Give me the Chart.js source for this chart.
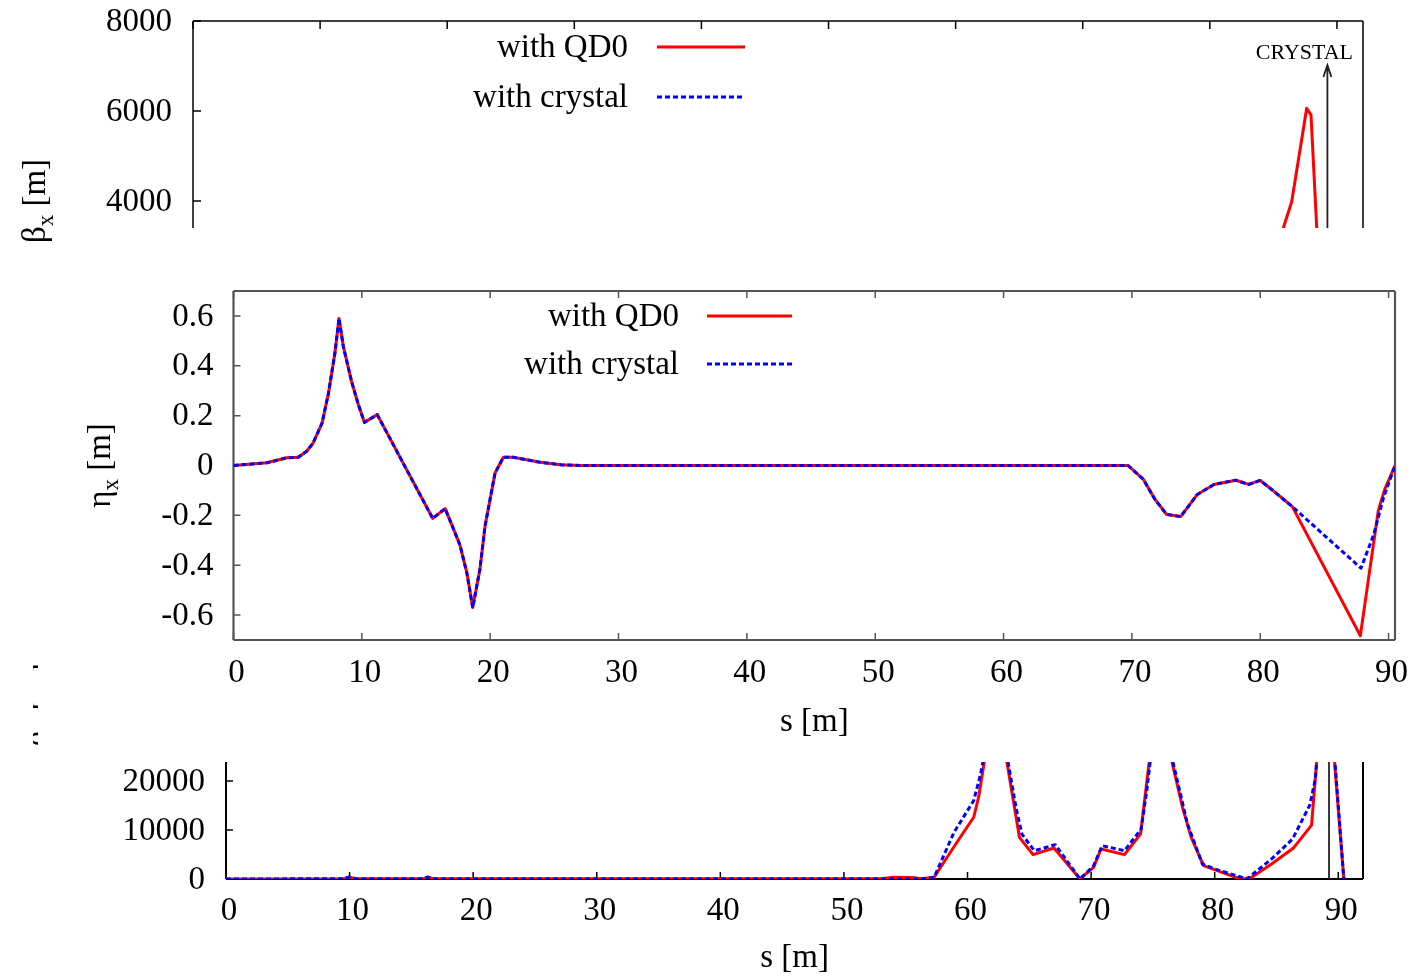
<!DOCTYPE html>
<html>
<head>
<meta charset="utf-8">
<title>Optics along the final focus</title>
<script src="https://cdn.jsdelivr.net/npm/chart.js@4.4.1/dist/chart.umd.min.js"></script>
<style>
  body { margin: 0; background: #fff; width: 1416px; height: 977px; position: relative; overflow: hidden; }
  .panel { position: absolute; overflow: hidden; background: #fff; }
  .panel canvas { display: block; }
  #frag { position: absolute; left: 33px; top: 655px; width: 5px; height: 95px; overflow: hidden; z-index: 3; }
  #frag span { position: absolute; left: 14px; top: 50px; transform: translate(-50%, -50%) rotate(-90deg);
               font: 33px "Liberation Serif", serif; white-space: nowrap; color: #000; }
</style>
</head>
<body>

<div class="panel" style="left:0;top:0;width:1416px;height:260px;z-index:1">
  <canvas id="betaXChart" width="1416" height="430"></canvas>
</div>
<div class="panel" style="left:0;top:740px;width:1416px;height:237px;z-index:1">
  <canvas id="betaYChart" width="1416" height="237"></canvas>
</div>
<div class="panel" style="left:60px;top:228px;width:1356px;height:534px;z-index:2">
  <canvas id="etaChart" width="1356" height="534"></canvas>
</div>
<div id="frag"><span>β<sub style="font-size:23px">y</sub> [m]</span></div>

<script>
// tick positions
const sTicks = [0, 10, 20, 30, 40, 50, 60, 70, 80, 90];
const betaXTicks = [0, 2000, 4000, 6000, 8000];
const etaTicks = [-0.6, -0.4, -0.2, 0, 0.2, 0.4, 0.6];
const betaYTicks = [0, 10000, 20000];

const seriesNames = ['with QD0', 'with crystal'];
const crystalS = 89.25;

// horizontal beta function [m]
const betaXQD0S = [0, 15, 30, 55, 70, 80, 84, 85.78, 86.44, 87.62, 87.96, 88.41, 89.0, 90.5];
const betaXQD0  = [0, 150, 20, 10, 400, 900, 2100, 3400, 3985, 6060, 5911, 3400, 1200, 20];
const betaXCrystalS = [0, 15, 30, 55, 70, 80, 84, 86.5, 88.0, 89.25, 90.5];
const betaXCrystal  = [0, 150, 20, 10, 400, 800, 1700, 2500, 3000, 2600, 20];

// horizontal dispersion [m], identical for both lattices up to s = 82.5 m
const etaS = [0, 2.6, 4.15, 5.05, 5.7, 6.2, 6.9, 7.4, 7.9, 8.22, 8.56, 9.2, 9.73, 10.2, 11.2,
              15.52, 16.49, 17.05, 17.65, 18.18, 18.64, 19.2, 19.6, 20.38, 21.03, 21.8, 23.9, 25.5, 27,
              69.7, 70.9, 71.8, 72.7, 73.8, 75.1, 76.4, 78.1, 79.1, 80.0, 81.05, 82.5];
const etaCommon = [0, 0.011, 0.031, 0.033, 0.057, 0.09, 0.17, 0.29, 0.45, 0.59, 0.477, 0.337, 0.244, 0.173, 0.204,
                   -0.212, -0.173, -0.243, -0.32, -0.43, -0.57, -0.416, -0.243, -0.03, 0.033, 0.033, 0.013, 0.003, 0,
                   0, -0.056, -0.136, -0.196, -0.205, -0.116, -0.076, -0.059, -0.076, -0.06, -0.103, -0.165];
const etaQD0TailS = [87.8, 89.2, 89.7, 90.5];
const etaQD0Tail  = [-0.683, -0.18, -0.096, 0];
const etaCrystalTailS = [87.85, 88.85, 89.6, 90.5];
const etaCrystalTail  = [-0.412, -0.276, -0.13, 0];

// vertical beta function [m]
const betaYQD0S = [0, 9.5, 10.0, 10.5, 16.0, 16.3, 16.8, 24, 53, 54, 55.5, 56.3, 57.3, 59.05, 60.5, 60.9,
                   62.25, 63.8, 64.2, 65.3, 67.0, 69.1, 70.2, 70.8, 72.7, 74.0, 75.33, 77.4, 78.1, 79.1,
                   81.7, 82.3, 83.0, 84.6, 86.35, 87.84, 88.97, 90.45];
const betaYQD0  = [0, 50, 350, 60, 60, 350, 60, 60, 60, 350, 300, 50, 350, 7140, 12600, 16700,
                   38000, 14600, 8500, 4970, 6330, 0, 2380, 6120, 4970, 9180, 37000, 14600, 8500, 2720,
                   340, 0, 340, 3060, 6260, 11000, 47000, 0];
const betaYCrystalS = [0, 9.5, 10.0, 10.5, 16.0, 16.3, 16.8, 53, 56.3, 57.3, 58.9, 60.5, 61.06, 62.3, 63.93,
                       64.4, 65.4, 67.1, 69.1, 70.2, 70.9, 72.7, 74.05, 74.5, 75.4, 77.8, 79.0, 80.0, 82.6,
                       84.6, 86.3, 87.7, 88.15, 89.0, 90.45];
const betaYCrystal  = [0, 50, 400, 60, 60, 400, 60, 60, 60, 350, 9500, 16000, 21400, 38000, 14500,
                       9180, 5780, 7000, 0, 2700, 6800, 5780, 10200, 18000, 37000, 11200, 3060, 2040, 0,
                       4080, 8160, 15100, 20500, 48000, 0];

const FONT = '"Liberation Serif", "Times New Roman", serif';
const pts = (xs, ys) => xs.map((s, i) => ({ x: s, y: ys[i] }));

// closed frame plus inward gnuplot-style ticks
const frameTicks = {
  id: 'frameTicks',
  beforeDatasetsDraw(chart, args, o) {
    const { ctx, chartArea: a } = chart;
    const x = chart.scales.x, y = chart.scales.y;
    ctx.save();
    ctx.strokeStyle = o.color;
    ctx.lineWidth = o.width;
    ctx.beginPath();
    if (o.sides.includes('t')) { ctx.moveTo(a.left, a.top); ctx.lineTo(a.right, a.top); }
    if (o.sides.includes('b')) { ctx.moveTo(a.left, a.bottom); ctx.lineTo(a.right, a.bottom); }
    if (o.sides.includes('l')) { ctx.moveTo(a.left, a.top); ctx.lineTo(a.left, a.bottom); }
    if (o.sides.includes('r')) { ctx.moveTo(a.right, a.top); ctx.lineTo(a.right, a.bottom); }
    ctx.stroke();
    ctx.lineWidth = o.tickWidth;
    ctx.beginPath();
    x.ticks.forEach(t => {
      const px = x.getPixelForValue(t.value);
      if (o.xTicks.includes('b')) { ctx.moveTo(px, a.bottom); ctx.lineTo(px, a.bottom - o.len); }
      if (o.xTicks.includes('t')) { ctx.moveTo(px, a.top); ctx.lineTo(px, a.top + o.len); }
    });
    y.ticks.forEach(t => {
      const py = y.getPixelForValue(t.value);
      ctx.moveTo(a.left, py); ctx.lineTo(a.left + o.len, py);
    });
    ctx.stroke();
    ctx.restore();
  }
};

// tick numbers, placed from the scale ticks
const tickText = {
  id: 'tickText',
  afterDraw(chart, args, o) {
    const { ctx, chartArea: a } = chart;
    const x = chart.scales.x, y = chart.scales.y;
    ctx.save();
    ctx.fillStyle = '#000';
    ctx.font = `${o.size}px ${FONT}`;
    ctx.textBaseline = 'middle';
    if (o.xOffset) {
      ctx.textAlign = 'center';
      x.ticks.forEach(t => ctx.fillText(String(t.value), x.getPixelForValue(t.value) + o.xDx, a.bottom + o.xOffset));
    }
    ctx.textAlign = 'right';
    y.ticks.forEach(t => ctx.fillText(String(t.value), a.left - o.yGap, y.getPixelForValue(t.value) + 1));
    ctx.restore();
  }
};

// key: right-aligned text followed by a line sample
const keyBox = {
  id: 'keyBox',
  afterDatasetsDraw(chart, args, o) {
    const ctx = chart.ctx;
    ctx.save();
    ctx.font = `${o.size}px ${FONT}`;
    ctx.textAlign = 'right';
    ctx.textBaseline = 'middle';
    chart.data.datasets.forEach((ds, i) => {
      const yy = o.top + i * o.gap;
      ctx.fillStyle = '#000';
      ctx.fillText(ds.label, o.textRight, yy + 1);
      ctx.strokeStyle = ds.borderColor;
      ctx.lineWidth = ds.borderWidth;
      ctx.setLineDash(ds.borderDash || []);
      ctx.beginPath();
      ctx.moveTo(o.lineFrom, yy);
      ctx.lineTo(o.lineTo, yy);
      ctx.stroke();
      ctx.setLineDash([]);
    });
    ctx.restore();
  }
};

// axis titles, y title may carry a subscript
function drawParts(ctx, parts, size) {
  const big = `${size}px ${FONT}`, small = `${Math.round(size * 0.7)}px ${FONT}`;
  let total = 0;
  parts.forEach(p => { ctx.font = p.sub ? small : big; total += ctx.measureText(p.t).width; });
  let cx = -total / 2;
  ctx.textAlign = 'left';
  ctx.textBaseline = 'alphabetic';
  parts.forEach(p => {
    ctx.font = p.sub ? small : big;
    ctx.fillText(p.t, cx, p.sub ? size * 0.55 : size * 0.3);
    cx += ctx.measureText(p.t).width;
  });
}

const axisTitles = {
  id: 'axisTitles',
  afterDraw(chart, args, o) {
    const { ctx, chartArea: a } = chart;
    ctx.save();
    ctx.fillStyle = '#000';
    if (o.x) {
      ctx.font = `${o.size}px ${FONT}`;
      ctx.textAlign = 'center';
      ctx.textBaseline = 'middle';
      ctx.fillText(o.x, (a.left + a.right) / 2, a.bottom + o.xOffset);
    }
    if (o.y) {
      ctx.translate(a.left - o.yOffset, (a.top + a.bottom) / 2);
      ctx.rotate(-Math.PI / 2);
      drawParts(ctx, o.y, o.size);
    }
    ctx.restore();
  }
};

// crystal position marker
const crystalMark = {
  id: 'crystalMark',
  afterDatasetsDraw(chart, args, o) {
    const { ctx, chartArea: a } = chart;
    const px = chart.scales.x.getPixelForValue(o.s);
    const tip = a.top + o.tip;
    ctx.save();
    ctx.strokeStyle = o.color;
    ctx.lineWidth = o.width;
    ctx.beginPath();
    ctx.moveTo(px, a.bottom);
    ctx.lineTo(px, tip);
    if (o.arrow) {
      ctx.moveTo(px - 4, tip + 12);
      ctx.lineTo(px, tip);
      ctx.lineTo(px + 4, tip + 12);
    }
    ctx.stroke();
    if (o.label) {
      ctx.fillStyle = '#000';
      ctx.font = `${o.labelSize}px ${FONT}`;
      ctx.textAlign = 'center';
      ctx.textBaseline = 'middle';
      ctx.fillText(o.label, px + o.labelDx, a.top + o.labelDy);
    }
    ctx.restore();
  }
};

function lineSets(qd0, crystal) {
  return [
    { label: seriesNames[0], data: qd0, borderColor: '#ff0000', borderWidth: 3, order: 2 },
    { label: seriesNames[1], data: crystal, borderColor: '#0000ff', borderWidth: 3, borderDash: [5, 3], order: 1 }
  ];
}

function baseOptions(c) {
  return {
    responsive: false,
    animation: false,
    events: [],
    layout: { padding: c.padding },
    elements: { point: { radius: 0 }, line: { tension: 0, borderJoinStyle: 'round', borderCapStyle: 'butt' } },
    scales: {
      x: {
        type: 'linear', min: 0, max: c.xMax,
        afterBuildTicks: s => { s.ticks = sTicks.map(v => ({ value: v })); },
        afterFit: s => { s.height = c.xHeight; },
        grid: { display: false, drawTicks: false },
        border: { display: false },
        ticks: { display: false }
      },
      y: {
        type: 'linear', min: c.yMin, max: c.yMax,
        afterBuildTicks: s => { s.ticks = c.yTicks.map(v => ({ value: v })); },
        afterFit: s => { s.width = c.yWidth; },
        grid: { display: false, drawTicks: false },
        border: { display: false },
        ticks: { display: false }
      }
    },
    plugins: {
      legend: { display: false },
      tooltip: { enabled: false },
      frameTicks: c.frame,
      tickText: c.numbers,
      keyBox: c.key,
      axisTitles: c.titles,
      crystalMark: c.crystal
    }
  };
}

// upper panel: horizontal beta
new Chart(document.getElementById('betaXChart'), {
  type: 'line',
  data: { datasets: lineSets(pts(betaXQD0S, betaXQD0), pts(betaXCrystalS, betaXCrystal)) },
  options: baseOptions({
    padding: { top: 21, right: 53, left: 0, bottom: 0 },
    xMax: 92.05, yMin: 0, yMax: 8000, yTicks: betaXTicks,
    xHeight: 49, yWidth: 193,
    frame: { color: '#000', width: 1.5, tickWidth: 1.5, len: 8, sides: 'tblr', xTicks: 'tb' },
    numbers: { size: 33, yGap: 21, xOffset: 0 },
    key: { size: 33, textRight: 628, top: 47, gap: 50, lineFrom: 657, lineTo: 745 },
    titles: { size: 33, yOffset: 158, y: [{ t: 'β' }, { t: 'x', sub: true }, { t: ' [m]' }] },
    crystal: { s: crystalS, color: '#222', width: 1.8, tip: 44, arrow: true,
               label: 'CRYSTAL', labelSize: 22, labelDx: -23, labelDy: 32 }
  }),
  plugins: [frameTicks, tickText, keyBox, axisTitles, crystalMark]
});

// middle panel: horizontal dispersion
new Chart(document.getElementById('etaChart'), {
  type: 'line',
  data: {
    datasets: lineSets(
      pts(etaS.concat(etaQD0TailS), etaCommon.concat(etaQD0Tail)),
      pts(etaS.concat(etaCrystalTailS), etaCommon.concat(etaCrystalTail))
    )
  },
  options: baseOptions({
    padding: { top: 63, right: 21, left: 0, bottom: 0 },
    xMax: 90.5, yMin: -0.7, yMax: 0.7, yTicks: etaTicks,
    xHeight: 122, yWidth: 173.5,
    frame: { color: '#555', width: 2.2, tickWidth: 1.5, len: 7, sides: 'tblr', xTicks: 'tb' },
    numbers: { size: 33, yGap: 20, xOffset: 33, xDx: 3 },
    key: { size: 33, textRight: 619, top: 88, gap: 48, lineFrom: 647, lineTo: 732 },
    titles: { size: 33, x: 's [m]', xOffset: 82, yOffset: 133.5,
              y: [{ t: 'η' }, { t: 'x', sub: true }, { t: ' [m]' }] },
    crystal: null
  }),
  plugins: [frameTicks, tickText, keyBox, axisTitles]
});

// lower panel: vertical beta
new Chart(document.getElementById('betaYChart'), {
  type: 'line',
  data: { datasets: lineSets(pts(betaYQD0S, betaYQD0), pts(betaYCrystalS, betaYCrystal)) },
  options: baseOptions({
    padding: { top: 22, right: 53, left: 0, bottom: 0 },
    xMax: 92.0, yMin: 0, yMax: 23878, yTicks: betaYTicks,
    xHeight: 98, yWidth: 226,
    frame: { color: '#000', width: 2, tickWidth: 1.5, len: 7, sides: 'blr', xTicks: 'b' },
    numbers: { size: 33, yGap: 21, xOffset: 32, xDx: 3 },
    key: null,
    titles: { size: 33, x: 's [m]', xOffset: 79 },
    crystal: { s: crystalS, color: '#222', width: 1.8, tip: 0, arrow: false }
  }),
  plugins: [frameTicks, tickText, axisTitles, crystalMark]
});
</script>
</body>
</html>
